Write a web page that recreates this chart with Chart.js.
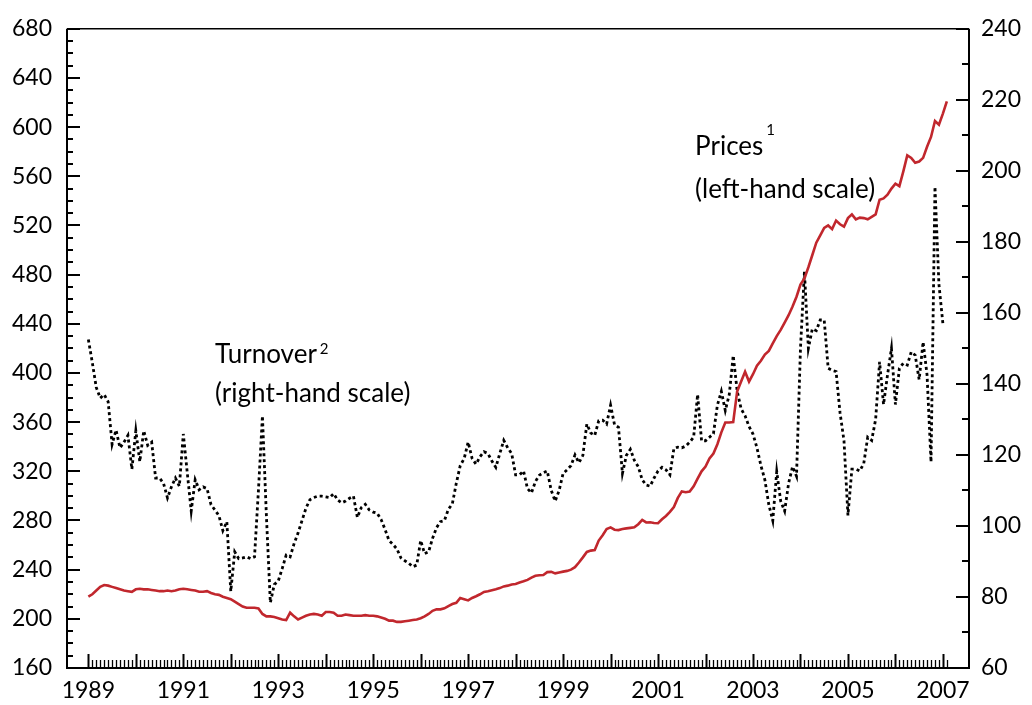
<!DOCTYPE html>
<html>
<head>
<meta charset="utf-8">
<script src="https://cdn.jsdelivr.net/npm/chart.js@4/dist/chart.umd.min.js"></script>
<style>
html,body{margin:0;padding:0;background:#fff;}
canvas{display:block;}
</style>
</head>
<body>
<canvas id="c" width="1032" height="705"></canvas>
<script>
// ---- Data (monthly, starting January 1989) ----
const startYear = 1989;
const yearLabels = [1989, 1991, 1993, 1995, 1997, 1999, 2001, 2003, 2005, 2007];
const leftTicks = [160, 200, 240, 280, 320, 360, 400, 440, 480, 520, 560, 600, 640, 680];
const rightTicks = [60, 80, 100, 120, 140, 160, 180, 200, 220, 240];

// Prices (left-hand scale)
const prices = [
  // 1989
  218, 220, 223, 226, 227.5, 227, 226, 225, 224, 223, 222.5, 222,
  // 1990
  224, 224.5, 224, 224, 223.5, 223, 222.5, 222.5, 223, 222.5, 223, 224,
  // 1991
  224.5, 224, 223.5, 223, 222, 222, 222.5, 221, 220, 219.5, 218, 217,
  // 1992
  216, 214, 212, 210, 209, 209, 209, 208.5, 204, 202, 202, 201.5,
  // 1993
  200.5, 199.5, 199, 205, 202, 199.5, 201, 202.5, 203.5, 204, 203.5, 202.5,
  // 1994
  205.5, 205.5, 205, 202.5, 202.5, 203.5, 203, 202.5, 202.5, 202.5, 203, 202.5,
  // 1995
  202.5, 202, 201, 200, 198.5, 198.5, 197.5, 197.5, 198, 198.5, 199, 199.5,
  // 1996
  200.5, 202, 204, 206.5, 207.7, 207.7, 208.5, 210.4, 212, 213, 217, 216,
  // 1997
  215, 217, 218.4, 220, 221.9, 222.5, 223.3, 224, 225, 226.4, 227, 228,
  // 1998
  228.3, 229.5, 230.5, 231.7, 233.5, 235, 235.5, 235.7, 238, 238.2, 237, 237.7,
  // 1999
  238.4, 239, 240, 242, 245.8, 250, 254.4, 255.5, 256, 263.7, 268, 273,
  // 2000
  274.4, 272.5, 272.2, 273, 273.6, 274, 274.4, 277, 280.5, 278.4, 278.5, 278,
  // 2001
  277.8, 281, 283.7, 287, 291, 298.4, 303.7, 303, 303.5, 307.8, 314, 320,
  // 2002
  323.8, 330.4, 334.4, 342, 351.7, 359.7, 359.7, 360, 385, 393, 401, 393,
  // 2003
  399, 406, 410, 415, 418, 424, 430, 435, 441, 447, 454, 462,
  // 2004
  472, 477, 486, 496, 506, 512, 518, 520, 517, 524, 521, 519,
  // 2005
  526, 529, 525, 526.4, 526, 525, 527, 529, 541, 542, 545, 550,
  // 2006
  554, 552, 564, 577, 575, 571, 572, 575, 584, 592, 605, 602,
  // 2007
  611, 621
];

// Turnover (right-hand scale)
const turnover = [
  // 1989
  152.5, 146, 139, 136, 137, 135, 123, 127, 122, 123.6, 125.5, 116,
  // 1990
  126.8, 118.1, 126.8, 122.7, 123.6, 113.5, 113.5, 112, 107.9, 111, 113.5, 111.2,
  // 1991
  125.9, 115, 104.2, 113, 110.2, 111, 110.5, 106, 104.5, 102.9, 98.7, 101.2,
  // 1992
  81.6, 92.7, 90.8, 91, 91.3, 90.8, 91.3, 110.2, 131, 102.9, 78.4, 83.5,
  // 1993
  84.5, 88, 91.8, 91.3, 95, 98, 101.5, 105, 107.4, 108, 108.4, 108.4,
  // 1994
  108.2, 108, 109.1, 107.3, 106.5, 107, 107.8, 108.4, 102.4, 105.2, 106.1, 104.5,
  // 1995
  103.9, 103.6, 101.8, 99, 95.9, 94.8, 93.5, 91, 90.2, 89.5, 88.5, 89,
  // 1996
  95.9, 92.2, 92.7, 96.5, 99.5, 101.2, 101.5, 104.7, 106.2, 112, 117, 119,
  // 1997
  123.6, 119, 117.4, 119.5, 120.9, 120.4, 118.3, 116.5, 120.4, 124.1, 122, 120.4,
  // 1998
  114.4, 114.4, 115.5, 110.5, 109.3, 112.5, 114.3, 115, 115.5, 110, 107, 110,
  // 1999
  114.8, 115.8, 117, 120, 117.8, 119.9, 128.7, 126.2, 125.5, 129.6, 129.8, 128.7,
  // 2000
  134, 128.5, 127.8, 114.8, 119.9, 121.6, 118.5, 116.7, 113, 111.5, 111.2, 113.5,
  // 2001
  115.5, 116.5, 115.8, 114.4, 121.8, 122.2, 122, 122.5, 123.6, 125, 137, 124,
  // 2002
  124, 125, 126, 134, 137.9, 132.5, 137, 148, 138, 133, 131, 128,
  // 2003
  125.9, 122, 117, 113, 106, 101.5, 115.3, 107, 104.2, 112, 116.7, 114,
  // 2004
  150, 171.6, 150, 155.5, 155, 158, 158, 144.4, 143.8, 143.5, 131.9, 124,
  // 2005
  103, 116, 116, 115.5, 117.6, 125, 124.1, 130, 146.2, 134.2, 142.5, 150,
  // 2006
  134.2, 144.4, 145.8, 145.3, 149, 148.1, 141.2, 151.8, 142.5, 118, 195.5, 168,
  // 2007
  157
];

const toPoints = arr => arr.map((v, i) => ({x: startYear + i / 12, y: v}));

const FONT = 'Lato, "Open Sans", sans-serif';

// Inward ticks + frame
const framePlugin = {
  id: 'frame',
  afterDraw(chart) {
    const ctx = chart.ctx;
    const a = chart.chartArea;
    const sx = chart.scales.x, sy = chart.scales.y, sy2 = chart.scales.y2;
    ctx.save();
    ctx.strokeStyle = '#000';
    ctx.lineCap = 'butt';
    // frame
    ctx.lineWidth = 1.5;
    ctx.beginPath();
    ctx.moveTo(a.left, a.top); ctx.lineTo(a.right, a.top);
    ctx.stroke();
    ctx.lineWidth = 2;
    ctx.beginPath();
    ctx.moveTo(a.left, a.top); ctx.lineTo(a.left, a.bottom);
    ctx.moveTo(a.right, a.top); ctx.lineTo(a.right, a.bottom);
    ctx.moveTo(a.left - 1, a.bottom); ctx.lineTo(a.right + 1, a.bottom);
    ctx.stroke();
    // left ticks
    for (let v = sy.min; v <= sy.max; v += 10) {
      const y = Math.round(sy.getPixelForValue(v));
      const major = (v - 160) % 40 === 0;
      ctx.lineWidth = 2;
      ctx.beginPath();
      ctx.moveTo(a.left, y); ctx.lineTo(a.left + (major ? 13 : 6), y);
      ctx.stroke();
    }
    // right ticks
    for (let v = sy2.min; v <= sy2.max; v += 10) {
      const y = Math.round(sy2.getPixelForValue(v));
      const major = (v - 60) % 20 === 0;
      ctx.lineWidth = 2;
      ctx.beginPath();
      ctx.moveTo(a.right, y); ctx.lineTo(a.right - (major ? 13 : 7), y);
      ctx.stroke();
    }
    // bottom ticks (monthly, yearly major)
    const nMonths = prices.length;
    for (let i = 0; i < nMonths; i++) {
      const x = Math.round(sx.getPixelForValue(startYear + i / 12)) + 0.5;
      const major = i % 12 === 0;
      ctx.lineWidth = major ? 2 : 1.3;
      ctx.beginPath();
      ctx.moveTo(x, a.bottom); ctx.lineTo(x, a.bottom - (major ? 14 : 8));
      ctx.stroke();
    }
    ctx.restore();
  }
};

// Text annotations
const labelPlugin = {
  id: 'labels',
  afterDatasetsDraw(chart) {
    const ctx = chart.ctx;
    const sx = chart.scales.x, sy = chart.scales.y;
    ctx.save();
    ctx.fillStyle = '#000';
    ctx.textBaseline = 'alphabetic';
    ctx.textAlign = 'left';
    const put = (xVal, yVal, main, sup, supRise, line2, gap) => {
      const x = sx.getPixelForValue(xVal);
      const y = sy.getPixelForValue(yVal);
      ctx.font = '26px ' + FONT;
      ctx.fillText(main, x, y);
      const w = ctx.measureText(main).width;
      ctx.font = '15px ' + FONT;
      ctx.fillText(sup, x + w + 3, y - supRise);
      ctx.font = '26px ' + FONT;
      ctx.fillText(line2, x, y + gap);
    };
    put(1991.67, 408.4, 'Turnover', '2', 9, '(right-hand scale)', 39);
    put(2001.78, 577.5, 'Prices', '1', 20, '(left-hand scale)', 43);
    ctx.restore();
  }
};

new Chart(document.getElementById('c'), {
  type: 'line',
  data: {
    datasets: [
      {
        label: 'Prices',
        data: toPoints(prices),
        yAxisID: 'y',
        borderColor: '#c1272d',
        borderWidth: 2.6,
        pointRadius: 0,
        tension: 0,
        fill: false
      },
      {
        label: 'Turnover',
        data: toPoints(turnover),
        yAxisID: 'y2',
        borderColor: '#000',
        borderWidth: 2.8,
        borderDash: [3, 3],
        pointRadius: 0,
        tension: 0,
        fill: false
      }
    ]
  },
  options: {
    responsive: false,
    devicePixelRatio: 1,
    animation: false,
    layout: {padding: {top: 19, left: 0, right: 0, bottom: 0}},
    plugins: {legend: {display: false}, tooltip: {enabled: false}},
    scales: {
      x: {
        type: 'linear',
        min: 1988.55,
        max: 2007.55,
        grid: {display: false, drawTicks: false},
        border: {display: false},
        afterBuildTicks: s => { s.ticks = yearLabels.map(v => ({value: v})); },
        afterFit: s => { s.height = 37; },
        ticks: {
          autoSkip: false,
          maxRotation: 0,
          padding: 9,
          color: '#000',
          font: {family: FONT, size: 23},
          callback: v => String(v)
        }
      },
      y: {
        position: 'left',
        min: 160,
        max: 680,
        grid: {display: false, drawTicks: false},
        border: {display: false},
        afterBuildTicks: s => { s.ticks = leftTicks.map(v => ({value: v})); },
        afterFit: s => { s.width = 67; },
        ticks: {
          padding: 15,
          color: '#000',
          font: {family: FONT, size: 23},
          callback: v => String(v)
        }
      },
      y2: {
        position: 'right',
        min: 60,
        max: 240,
        grid: {display: false, drawTicks: false},
        border: {display: false},
        afterBuildTicks: s => { s.ticks = rightTicks.map(v => ({value: v})); },
        afterFit: s => { s.width = 63; },
        ticks: {
          padding: 12,
          color: '#000',
          font: {family: FONT, size: 23},
          callback: v => String(v)
        }
      }
    }
  },
  plugins: [framePlugin, labelPlugin]
});
</script>
</body>
</html>
